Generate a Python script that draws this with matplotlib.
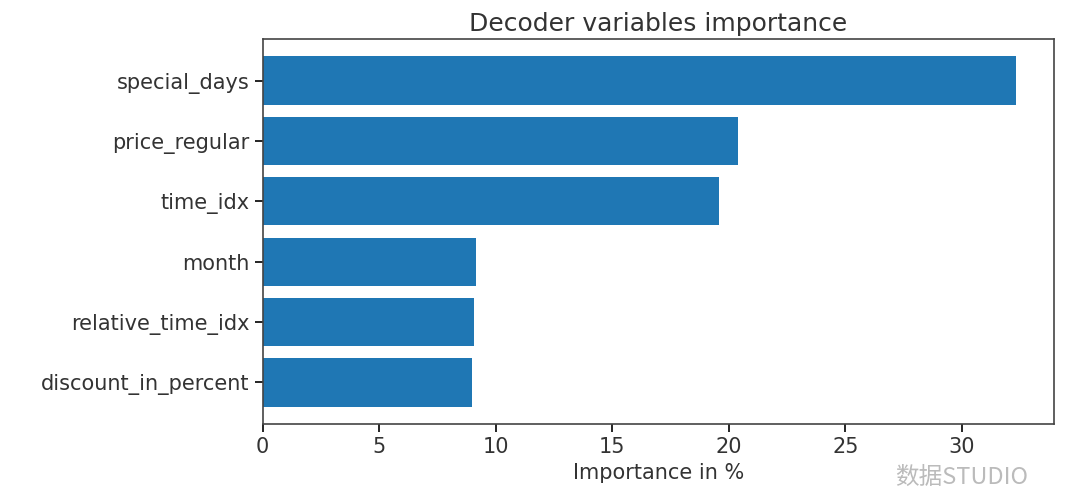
import matplotlib.pyplot as plt

variables = ["discount_in_percent", "relative_time_idx", "month",
             "time_idx", "price_regular", "special_days"]
importance = [8.99, 9.08, 9.15, 19.58, 20.4, 32.34]

plt.rcParams['font.family'] = ['DejaVu Sans', 'Noto Sans CJK SC']

fig = plt.figure(figsize=(10.8, 5.03), dpi=100)
ax = fig.add_axes([0.2432, 0.157, 0.7328, 0.7655])

ax.barh(variables, importance, color="#1f77b4")
ax.set_title("Decoder variables importance", fontsize=18, color="#333333")
ax.set_xlabel("Importance in %", fontsize=15, color="#333333")
ax.tick_params(labelsize=15, labelcolor="#333333", length=6, width=1.2)
for s in ax.spines.values():
    s.set_linewidth(1.2)
    s.set_color("#444444")

# watermark
fig.text(0.829, 0.05, "数据STUDIO", fontsize=17, color="#aaaaaa", alpha=0.8,
         family=['Noto Sans CJK SC', 'DejaVu Sans'], va="center")

fig.savefig("out.png", dpi=100)
